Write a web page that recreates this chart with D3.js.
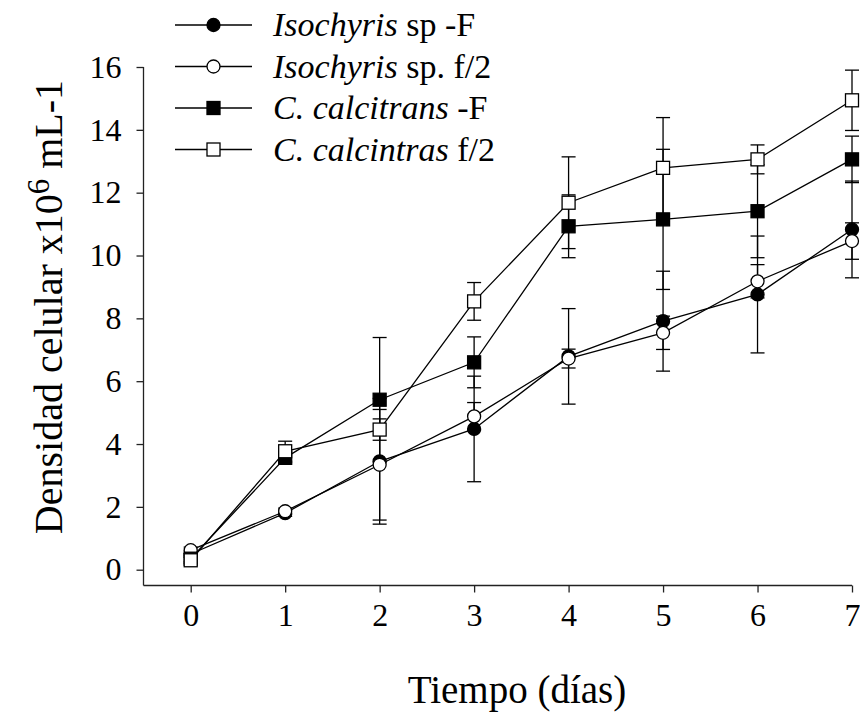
<!DOCTYPE html>
<html>
<head>
<meta charset="utf-8">
<script src="https://cdn.jsdelivr.net/npm/d3@7"></script>
<style>
  body { margin: 0; background: #fff; }
  svg { font-family: "Liberation Serif", "Times New Roman", serif; }
</style>
</head>
<body>
<svg width="860" height="719"></svg>
<script>
// days of culture
const days = [0, 1, 2, 3, 4, 5, 6, 7];
const yTicks = [0, 2, 4, 6, 8, 10, 12, 14, 16];

// cell density (x10^6 mL-1) and error bars
const isoF     = [0.50, 1.80, 3.45, 4.48, 6.79, 7.91, 8.76, 10.83];
const isoFErr  = [0.10, 0.10, 2.00, 1.68, 1.52, 1.59, 1.86, 1.54];
const isoF2    = [0.62, 1.86, 3.34, 4.88, 6.72, 7.54, 9.18, 10.46];
const isoF2Err = [0.10, 0.10, 1.76, 0.44, 0.30, 0.53, 0.53, 0.58];
const ccF      = [0.35, 3.56, 5.41, 6.60, 10.93, 11.15, 11.41, 13.06];
const ccFErr   = [0.10, 0.15, 1.98, 0.81, 1.00, 2.23, 1.48, 0.74];
const ccF2     = [0.30, 3.77, 4.46, 8.54, 11.68, 12.79, 13.06, 14.94];
const ccF2Err  = [0.10, 0.32, 0.34, 0.60, 1.46, 1.60, 0.46, 0.96];

const series = [
  {name: "Isochyris", rest: " sp -F",   vals: isoF,  err: isoFErr,  shape: "circle", fill: "#000"},
  {name: "Isochyris", rest: " sp. f/2", vals: isoF2, err: isoF2Err, shape: "circle", fill: "#fff"},
  {name: "C. calcitrans", rest: " -F",  vals: ccF,   err: ccFErr,   shape: "square", fill: "#000"},
  {name: "C. calcintras", rest: " f/2", vals: ccF2,  err: ccF2Err,  shape: "square", fill: "#fff"}
];

const svg = d3.select("svg");
const axisLeftX = 143.5, axisBottomY = 585.5;

const x = d3.scaleLinear().domain([0, 7]).range([190.7, 852]);
const y = d3.scaleLinear().domain([0, 16]).range([569.7, 67]);

// x axis
const gx = svg.append("g")
  .attr("transform", "translate(0," + axisBottomY + ")")
  .call(d3.axisBottom(x).tickValues(days).tickFormat(d3.format("d"))
    .tickSize(7).tickSizeOuter(0).tickPadding(11));
gx.select(".domain").attr("d", "M" + axisLeftX + ",0H" + x(7));

// y axis
const gy = svg.append("g")
  .attr("transform", "translate(" + axisLeftX + ",0)")
  .call(d3.axisLeft(y).tickValues(yTicks).tickFormat(d3.format("d"))
    .tickSize(7).tickSizeOuter(0).tickPadding(15));
gy.select(".domain").attr("d", "M0," + y(16) + "V" + axisBottomY);

svg.selectAll(".tick line, .domain").attr("stroke", "#222").attr("stroke-width", 1.3);
svg.selectAll(".tick text").attr("font-size", 32).attr("fill", "#000")
  .attr("font-family", "Liberation Serif");

// error bars
const cap = 7;
series.forEach(s => {
  const g = svg.append("g").attr("stroke", "#000").attr("stroke-width", 1.3);
  days.forEach((d, i) => {
    const top = y(s.vals[i] + s.err[i]), bot = y(s.vals[i] - s.err[i]);
    g.append("line").attr("x1", x(d)).attr("x2", x(d)).attr("y1", top).attr("y2", bot);
    g.append("line").attr("x1", x(d) - cap).attr("x2", x(d) + cap).attr("y1", top).attr("y2", top);
    g.append("line").attr("x1", x(d) - cap).attr("x2", x(d) + cap).attr("y1", bot).attr("y2", bot);
  });
});

// lines
const line = d3.line().x((v, i) => x(days[i])).y(v => y(v));
series.forEach(s => {
  svg.append("path").attr("d", line(s.vals))
    .attr("fill", "none").attr("stroke", "#000").attr("stroke-width", 1.3);
});

function marker(g, s, cx, cy) {
  if (s.shape === "circle") {
    g.append("circle").attr("cx", cx).attr("cy", cy).attr("r", 6.5)
      .attr("fill", s.fill).attr("stroke", "#000").attr("stroke-width", 1.3);
  } else {
    g.append("rect").attr("x", cx - 6.5).attr("y", cy - 6.5).attr("width", 13).attr("height", 13)
      .attr("fill", s.fill).attr("stroke", "#000").attr("stroke-width", 1.3);
  }
}

// markers
series.forEach(s => {
  const g = svg.append("g");
  days.forEach((d, i) => marker(g, s, x(d), y(s.vals[i])));
});

// legend
const leg = svg.append("g");
series.forEach((s, i) => {
  const ly = 25 + i * 41.5;
  leg.append("line").attr("x1", 175).attr("x2", 252).attr("y1", ly).attr("y2", ly)
    .attr("stroke", "#000").attr("stroke-width", 1.3);
  marker(leg, s, 213.5, ly);
  const t = leg.append("text").attr("x", 273).attr("y", ly + 11).attr("font-size", 34);
  t.append("tspan").attr("font-style", "italic").text(s.name);
  t.append("tspan").text(s.rest);
});

// axis titles
svg.append("text").attr("x", 517).attr("y", 703).attr("text-anchor", "middle")
  .attr("font-size", 39).text("Tiempo (días)");

const yt = svg.append("text").attr("transform", "translate(62,307) rotate(-90)")
  .attr("text-anchor", "middle").attr("font-size", 40);
yt.append("tspan").text("Densidad celular x10");
yt.append("tspan").attr("font-size", 31).attr("dy", -13).text("6");
yt.append("tspan").attr("dy", 13).text(" mL-1");
</script>
</body>
</html>
